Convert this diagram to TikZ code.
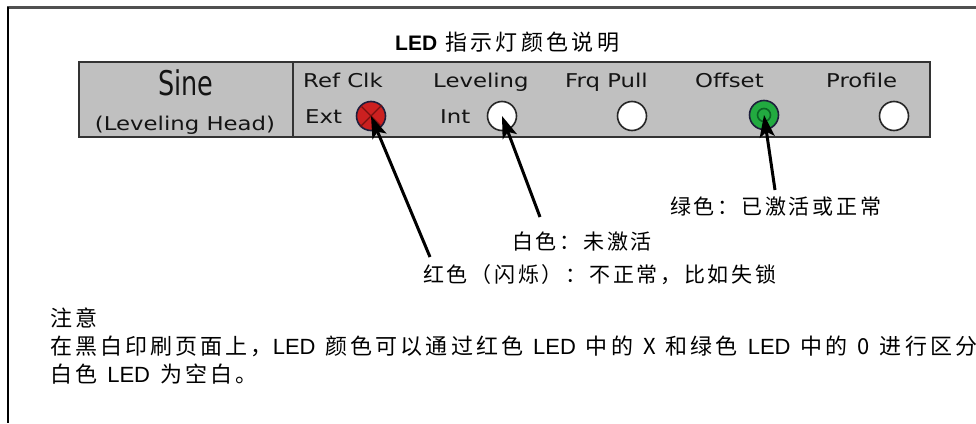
\documentclass[tikz,border=0pt]{standalone}
\usepackage{fontspec}
\setmainfont{Liberation Sans}
\newfontfamily\latinfont{Liberation Sans}
\newfontfamily\cjktitle[LetterSpace=15]{Noto Sans CJK SC}
\newfontfamily\cjknote[LetterSpace=14]{Noto Sans CJK SC}
\newfontfamily\cjklab[LetterSpace=13]{Noto Sans CJK SC}
\newfontfamily\panelfont[FakeStretch=1.2]{DejaVu Sans}
\newfontfamily\sinefont[FakeStretch=0.75]{DejaVu Sans}
\usetikzlibrary{arrows.meta}
\definecolor{panelgray}{RGB}{192,192,192}
\definecolor{paneltext}{RGB}{20,20,20}
\definecolor{ledred}{RGB}{204,32,32}
\definecolor{ledxred}{RGB}{120,16,16}
\definecolor{ledgreen}{RGB}{34,170,64}
\definecolor{ledring}{RGB}{10,100,36}
\definecolor{ledborder}{RGB}{30,30,60}
\definecolor{framegray}{RGB}{80,80,80}
\tikzset{
  ptext/.style={font=\panelfont\fontsize{19}{19}\selectfont, text=paneltext, inner sep=0pt, anchor=base west},
  led/.style={circle, minimum size=29pt, inner sep=0pt, line width=1.6pt},
  whiteled/.style={led, fill=white, draw=black!85},
  lbl/.style={font=\cjklab\fontsize{21}{21}\selectfont, inner sep=0pt, anchor=west},
  notetext/.style={font=\cjknote\fontsize{22}{22}\selectfont, inner sep=0pt, anchor=west},
  pointer/.style={line width=3pt, -{Stealth[length=22pt,width=15pt,inset=5pt]}},
}
\newcommand\ledtxt[1]{{\latinfont\fontsize{22}{22}\selectfont #1}}
\newcommand\gp{\hspace{10pt}}
\begin{document}
\begin{tikzpicture}[x=1pt,y=-1pt]
\useasboundingbox (0,0) rectangle (976,423);
% frame
\draw[framegray, line width=2.7pt] (7,7.5) -- (976,7.5);
\draw[black, line width=2pt] (7.5,7) -- (7.5,423);
% title
\node[inner sep=0pt, anchor=west] (title) at (395,42)
  {{\latinfont\bfseries\fontsize{21}{21}\selectfont LED}\hspace{8pt}{\cjktitle\fontsize{22}{22}\selectfont 指示灯颜色说明}};
% panel
\draw[fill=panelgray, draw=black!80, line width=2pt] (79,62) rectangle (930,137);
\draw[black!80, line width=2pt] (293,62) -- (293,137);
\node[font=\sinefont\fontsize{34}{34}\selectfont, text=paneltext, inner sep=0pt, anchor=base] (sine) at (186,95) {Sine};
\node[ptext, anchor=base] (lhead) at (185,130) {(Leveling Head)};
\node[ptext] (refclk) at (303,87) {Ref Clk};
\node[ptext] (leveling) at (433,87) {Leveling};
\node[ptext] (frq) at (565,87) {Frq Pull};
\node[ptext] (offset) at (695,87) {Offset};
\node[ptext] (profile) at (826,87) {Profile};
\node[ptext] (ext) at (305,123) {Ext};
\node[ptext] (int) at (440,123) {Int};
% LEDs
\node[led, fill=ledred, draw=ledborder] (red) at (371,116) {};
\draw[ledxred, line width=1.4pt, shorten <=2pt, shorten >=2pt] (red.45) -- (red.225) (red.135) -- (red.315);
\node[whiteled] (intled) at (502,116) {};
\node[whiteled] (frqled) at (632,116) {};
\node[led, fill=ledgreen, draw=ledborder] (green) at (764,115) {};
\draw[ledring, line width=1.6pt] (green.center) circle (6.5pt);
\node[whiteled] (profled) at (894,116) {};
% labels
\node[lbl] (greenlbl) at (670,206) {绿色：已激活或正常};
\node[lbl] (whitelbl) at (512,241) {白色：未激活};
\node[lbl] (redlbl) at (423,275) {红色（闪烁）：不正常，比如失锁};
% arrows
\coordinate (gtail) at (775,190);
\coordinate (wtail) at (540,217);
\coordinate (rtail) at (430,257);
\draw[pointer] (gtail) -- (green.center);
\draw[pointer] (wtail) -- (intled.center);
\draw[pointer] (rtail) -- (red.center);
% note
\node[notetext] (note1) at (50,318) {注意};
\node[notetext] (note2) at (50,346) {在黑白印刷页面上，\ledtxt{LED}\gp 颜色可以通过红色\gp\ledtxt{LED}\gp 中的\gp X\gp 和绿色\gp\ledtxt{LED}\gp 中的\gp 0\gp 进行区分};
\node[notetext] (note3) at (50,374) {白色\gp\ledtxt{LED}\gp 为空白。};
\end{tikzpicture}
\end{document}
